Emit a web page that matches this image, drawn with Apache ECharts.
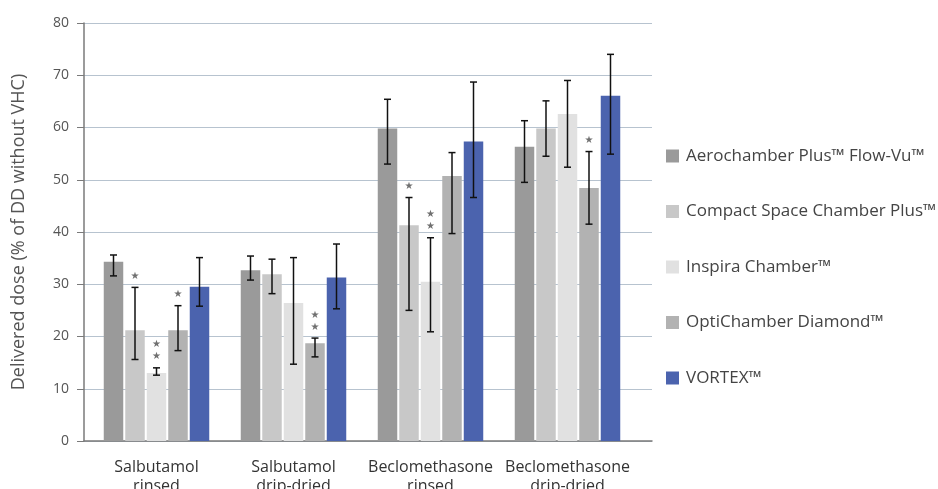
<!DOCTYPE html>
<html><head><meta charset="utf-8">
<script src="https://cdn.jsdelivr.net/npm/echarts@6/dist/echarts.min.js"></script>
<style>html,body{margin:0;padding:0;background:#fff}#c{width:938px;height:489px}</style>
</head><body><div id="c"></div>
<script>
const categories = ['Salbutamol\nrinsed', 'Salbutamol\ndrip-dried', 'Beclomethasone\nrinsed', 'Beclomethasone\ndrip-dried'];
const seriesNames = ['Aerochamber Plus™ Flow-Vu™', 'Compact Space Chamber Plus™', 'Inspira Chamber™', 'OptiChamber Diamond™', 'VORTEX™'];
const aerochamber     = [34.3, 32.7, 59.8, 56.3];
const aerochamberLow  = [31.6, 30.8, 53.0, 49.5];
const aerochamberHigh = [35.6, 35.4, 65.4, 61.3];
const compact         = [21.2, 31.9, 41.3, 59.8];
const compactLow      = [15.6, 28.2, 25.0, 54.5];
const compactHigh     = [29.4, 34.8, 46.6, 65.1];
const inspira         = [13.0, 26.4, 30.5, 62.6];
const inspiraLow      = [12.6, 14.7, 20.9, 52.4];
const inspiraHigh     = [14.0, 35.1, 38.9, 69.0];
const opti            = [21.2, 18.7, 50.7, 48.4];
const optiLow         = [17.3, 16.1, 39.7, 41.5];
const optiHigh        = [25.9, 19.7, 55.2, 55.4];
const vortex          = [29.5, 31.3, 57.3, 66.1];
const vortexLow       = [25.8, 25.3, 46.6, 54.9];
const vortexHigh      = [35.1, 37.7, 68.7, 74.0];
// significance stars per bar (count)
const aerochamberStars = [0, 0, 0, 0];
const compactStars     = [1, 0, 1, 0];
const inspiraStars     = [2, 0, 2, 0];
const optiStars        = [1, 2, 0, 1];
const vortexStars      = [0, 0, 0, 0];
const yMin = 0, yMax = 80, yInterval = 10;

const values = [aerochamber, compact, inspira, opti, vortex];
const lows = [aerochamberLow, compactLow, inspiraLow, optiLow, vortexLow];
const highs = [aerochamberHigh, compactHigh, inspiraHigh, optiHigh, vortexHigh];
const starsAll = [aerochamberStars, compactStars, inspiraStars, optiStars, vortexStars];
const colors = ['#9a9a9a', '#c8c8c8', '#e1e1e1', '#b2b2b2', '#4b63ae'];

const BAR_W = 19.5, GAP = 2, PITCH = BAR_W + GAP;
const FONT = '"Open Sans", "Noto Sans", sans-serif';

function errRender(si) {
  return function (params, api) {
    const c = api.value(0), lo = api.value(1), hi = api.value(2), n = api.value(3);
    const pLo = api.coord([c, lo]), pHi = api.coord([c, hi]);
    const x = pLo[0] + (si - 2) * PITCH;
    const cw = 3.5;
    const st = { stroke: '#111', lineWidth: 1.5 };
    const children = [
      { type: 'line', shape: { x1: x, y1: pHi[1], x2: x, y2: pLo[1] }, style: st },
      { type: 'line', shape: { x1: x - cw, y1: pHi[1], x2: x + cw, y2: pHi[1] }, style: st },
      { type: 'line', shape: { x1: x - cw, y1: pLo[1], x2: x + cw, y2: pLo[1] }, style: st }
    ];
    for (let k = 0; k < n; k++) {
      children.push({ type: 'text', style: { text: '★', x: x, y: pHi[1] - 11 - k * 12, fill: '#707070', font: '10px "DejaVu Sans"', align: 'center', verticalAlign: 'middle' } });
    }
    return { type: 'group', children };
  };
}

const series = [];
values.forEach((v, i) => {
  series.push({ name: seriesNames[i], type: 'bar', xAxisIndex: 1, yAxisIndex: 1, data: v, barWidth: BAR_W, barGap: (GAP / BAR_W * 100) + '%', itemStyle: { color: colors[i] }, z: 2 });
});
values.forEach((v, i) => {
  series.push({ type: 'custom', xAxisIndex: 1, yAxisIndex: 1, renderItem: errRender(i), clip: false, z: 5, silent: true,
    data: v.map((_, c) => [c, lows[i][c], highs[i][c], starsAll[i][c]]) });
});

const chart = echarts.init(document.getElementById('c'), null, { renderer: 'canvas' });
chart.setOption({
  animation: false,
  textStyle: { fontFamily: FONT },
  grid: [
    { left: 84, right: 286, top: 23, bottom: 48, containLabel: false, outerBoundsMode: 'none' },
    { left: 88, width: 548, top: 23, bottom: 48, containLabel: false, outerBoundsMode: 'none' }
  ],
  xAxis: [
    { gridIndex: 0, type: 'value', min: 0, max: 1, axisLine: { show: true, lineStyle: { color: '#7a7a7a', width: 1.5 } }, axisTick: { show: false }, axisLabel: { show: false }, splitLine: { show: false } },
    { gridIndex: 1, type: 'category', data: categories, axisLine: { show: false }, axisTick: { show: false },
      axisLabel: { interval: 0, color: '#333', fontSize: 16, lineHeight: 19, margin: 17, fontFamily: FONT } }
  ],
  yAxis: [
    { gridIndex: 0, type: 'value', min: yMin, max: yMax, interval: yInterval,
      name: 'Delivered dose (% of DD without VHC)', nameLocation: 'middle', nameGap: 56, nameTextStyle: { color: '#555', fontSize: 18, fontFamily: FONT },
      axisLine: { show: true, lineStyle: { color: '#7a7a7a', width: 1.5 } },
      axisTick: { show: true, length: 7, lineStyle: { color: '#7a7a7a' } },
      axisLabel: { color: '#555', fontSize: 14, margin: 15, fontFamily: FONT },
      splitLine: { show: true, lineStyle: { color: '#b7c3cf', width: 1.2 } } },
    { gridIndex: 1, type: 'value', min: yMin, max: yMax, interval: yInterval, show: false, splitLine: { show: false } }
  ],
  legend: {
    data: seriesNames, orient: 'vertical', left: 661, top: 141, icon: 'rect', itemWidth: 13, itemHeight: 13, itemGap: 35.5,
    textStyle: { color: '#444', fontSize: 17, lineHeight: 20, fontFamily: FONT, padding: [0, 0, 0, 2] }, selectedMode: false
  },
  series
});
</script></body></html>
